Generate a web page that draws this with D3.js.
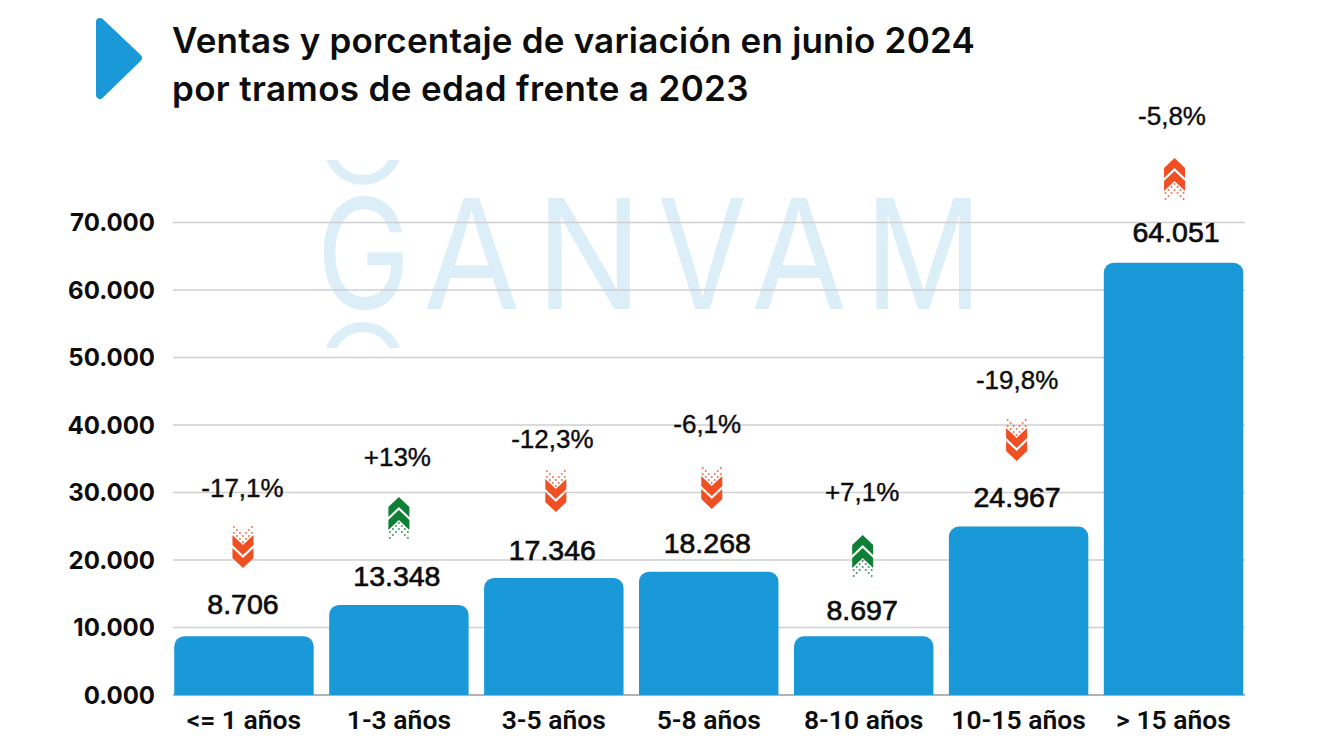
<!DOCTYPE html>
<html><head><meta charset="utf-8">
<script src="https://cdnjs.cloudflare.com/ajax/libs/d3/7.8.5/d3.min.js"></script>
<style>html,body{margin:0;padding:0;background:#fff}svg{display:block}</style></head>
<body><svg id="c" width="1320" height="742"></svg>
<script>
const titleLines=["Ventas y porcentaje de variación en junio 2024","por tramos de edad frente a 2023"];
const categories=["<= 1 años","1-3 años","3-5 años","5-8 años","8-10 años","10-15 años","> 15 años"];
const sales=[8706,13348,17346,18268,8697,24967,64051];
const salesLabels=["8.706","13.348","17.346","18.268","8.697","24.967","64.051"];
const salesLabelLevels=[13481,17630,21481,22519,12593,29333,68593];
const pctLabels=["-17,1%","+13%","-12,3%","-6,1%","+7,1%","-19,8%","-5,8%"];
const pctLevels=[30667,35259,37926,40148,30074,46667,85778];
const arrowLevels=[21926,26222,30222,30667,20593,37778,76444];
const arrowDirs=["down","up","down","down","up","down","up"];
const arrowColors=["#f04e23","#0f7f36","#f04e23","#f04e23","#0f7f36","#f04e23","#f04e23"];
const ticks=[0,10000,20000,30000,40000,50000,60000,70000];
const tickLabels=["0.000","10.000","20.000","30.000","40.000","50.000","60.000","70.000"];
const watermarkLetters=["G","A","N","V","A","M"];

const svg=d3.select("#c");
const y=d3.scaleLinear().domain([0,70000]).range([695,222.5]);
const x=d3.scaleBand().domain(categories).range([166.5,1251]).paddingInner(0.1).paddingOuter(0.05);
const cx=c=>x(c)+x.bandwidth()/2;
const blue="#1999d8", ink="#0d0d0d", wmCol="#dceff8";
const font="Roboto, Inter, sans-serif", valFont="'Liberation Sans', Arial, sans-serif";

// watermark: each condensed letter is fitted to its ink box
const wmBoxes=[[324,403],[426,517],[548,630],[660,744],[754,844],[876,971]];
const wm=svg.append("g").attr("fill",wmCol);
const mctx=document.createElement("canvas").getContext("2d");
mctx.font="400 153px Inter";
wm.selectAll("text").data(watermarkLetters).join("text")
 .attr("font-family","Inter").attr("font-weight",400).attr("font-size",153)
 .attr("transform",(d,i)=>{const m=mctx.measureText(d),l=-m.actualBoundingBoxLeft,r=m.actualBoundingBoxRight,
   s=(wmBoxes[i][1]-wmBoxes[i][0])/(r-l);return `translate(${wmBoxes[i][0]-l*s},309) scale(${s},1)`;})
 .text(d=>d);
svg.append("clipPath").attr("id","ct").append("rect").attr("x",320).attr("y",160).attr("width",90).attr("height",30);
svg.append("clipPath").attr("id","cb").append("rect").attr("x",320).attr("y",318).attr("width",90).attr("height",30);
wm.append("circle").attr("cx",363).attr("cy",146).attr("r",34).attr("fill","none").attr("stroke",wmCol).attr("stroke-width",10).attr("clip-path","url(#ct)");
wm.append("circle").attr("cx",363).attr("cy",361).attr("r",34).attr("fill","none").attr("stroke",wmCol).attr("stroke-width",10).attr("clip-path","url(#cb)");

// grid
svg.append("g").selectAll("line").data(ticks).join("line")
 .attr("x1",173).attr("x2",1245).attr("y1",d=>y(d)).attr("y2",d=>y(d))
 .attr("stroke",d=>d===0?"#9a9a9a":"#cfcfcf").attr("stroke-width",1.5);

// y labels
svg.append("g").selectAll("text").data(ticks).join("text")
 .attr("x",155).attr("y",d=>y(d)).attr("dy","0.36em").attr("text-anchor","end")
 .attr("font-family","Inter").attr("font-weight",700).attr("font-size",24).attr("fill",ink)
 .text((d,i)=>tickLabels[i]);

// x labels
svg.append("g").selectAll("text").data(categories).join("text")
 .attr("x",d=>cx(d)).attr("y",719).attr("dy","0.36em").attr("text-anchor","middle")
 .attr("font-family",font).attr("font-weight",600).attr("font-size",26.5).attr("fill",ink)
 .text(d=>d);

// bars
function topRound(xx,yy,w,h,r){const p=d3.path();p.moveTo(xx,yy+h);p.lineTo(xx,yy+r);p.arcTo(xx,yy,xx+r,yy,r);p.lineTo(xx+w-r,yy);p.arcTo(xx+w,yy,xx+w,yy+r,r);p.lineTo(xx+w,yy+h);p.closePath();return p.toString();}
svg.append("g").selectAll("path").data(sales).join("path").attr("fill",blue)
 .attr("d",(d,i)=>topRound(x(categories[i]),y(d),x.bandwidth(),y(0)-y(d),10));

// value labels
const valueNudge=[-1,-2,-1.5,-1.5,-1.5,-1.5,2.5];
svg.append("g").selectAll("text").data(salesLabels).join("text")
 .attr("x",(d,i)=>cx(categories[i])+valueNudge[i]).attr("y",(d,i)=>y(salesLabelLevels[i])).attr("dy","0.36em")
 .attr("text-anchor","middle").attr("font-family",valFont).attr("font-size",28.5).attr("fill",ink)
 .attr("stroke",ink).attr("stroke-width",.7).text(d=>d);

// pct labels
svg.append("g").selectAll("text").data(pctLabels).join("text")
 .attr("x",(d,i)=>cx(categories[i])-1.5).attr("y",(d,i)=>y(pctLevels[i])).attr("dy","0.36em")
 .attr("text-anchor","middle").attr("font-family",valFont).attr("font-size",26).attr("fill",ink)
 .attr("stroke",ink).attr("stroke-width",.4).text(d=>d);

// arrows
const arrowNudge=[-1,0,2,3,-1,-2,1];
const chev=a=>`M-10.5 ${a+10}L0 ${a}L10.5 ${a+10}V${a+20}L0 ${a+10}L-10.5 ${a+20}Z`;
const dots=[[0,5],[-3,8],[3,8],[0,11],[-6,11],[6,11],[-3,14],[3,14],[-9,14],[9,14],[-6,17],[6,17],[-9,20],[9,20]];
const ag=svg.append("g").selectAll("g").data(arrowDirs).join("g")
 .attr("transform",(d,i)=>`translate(${cx(categories[i])+arrowNudge[i]},${y(arrowLevels[i])}) scale(1,${d==="up"?1:-1})`)
 .attr("fill",(d,i)=>arrowColors[i]);
ag.append("path").attr("d",chev(-21));
ag.append("path").attr("d",chev(-8));
ag.selectAll("circle").data(dots).join("circle").attr("cx",d=>d[0]).attr("cy",d=>d[1]).attr("r",1).attr("opacity",.8);

// title
const tt=svg.append("g");
tt.append("path").attr("fill",blue).attr("stroke",blue).attr("stroke-width",8).attr("stroke-linejoin","round")
  .attr("d","M100 22L138 58L100 95Z");
tt.selectAll("text").data(titleLines).join("text").attr("x",172).attr("y",(d,i)=>53+i*47.5)
 .attr("font-family","Inter").attr("font-weight",600).attr("font-size",35).attr("letter-spacing",(d,i)=>i?.35:.2).attr("fill",ink).text(d=>d);
</script></body></html>
